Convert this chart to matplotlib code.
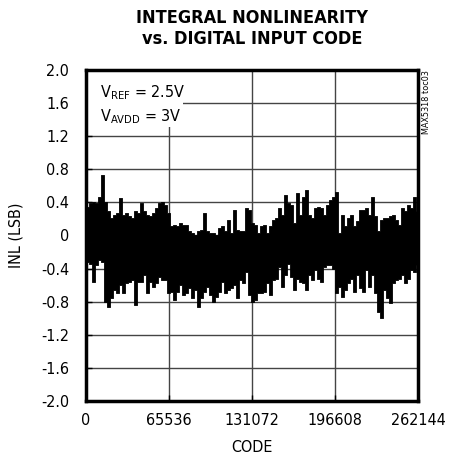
import matplotlib
matplotlib.use('Agg')
import matplotlib.pyplot as plt
from matplotlib.patches import Rectangle
import numpy as np

# INL envelope (max / min per code bin)
inl_max = [0.35, 0.39, 0.41, 0.39, 0.47, 0.73, 0.41, 0.29, 0.21, 0.25,
           0.27, 0.45, 0.25, 0.27, 0.23, 0.21, 0.29, 0.27, 0.39, 0.29,
           0.25, 0.23, 0.27, 0.33, 0.39, 0.41, 0.37, 0.27,
           0.11, 0.13, 0.11, 0.15, 0.13, 0.13, 0.05, 0.03, 0.01, 0.05,
           0.07, 0.27, 0.05, 0.03, 0.03, 0.01, 0.09, 0.11, 0.05, 0.19,
           0.03, 0.31, 0.07, 0.05, 0.05, 0.33, 0.31, 0.15,
           0.13, 0.03, 0.11, 0.13, 0.03, 0.11, 0.19, 0.21, 0.33, 0.25,
           0.49, 0.39, 0.37, 0.15, 0.51, 0.25, 0.47, 0.55, 0.25, 0.21,
           0.33, 0.35, 0.33, 0.25, 0.37, 0.43, 0.47, 0.53,
           0.03, 0.25, 0.11, 0.21, 0.25, 0.11, 0.17, 0.31, 0.31, 0.33,
           0.25, 0.47, 0.23, 0.05, 0.19, 0.21, 0.21, 0.23, 0.25, 0.19,
           0.13, 0.33, 0.29, 0.37, 0.33, 0.47, 0.29]
inl_min = [-0.32, -0.34, -0.56, -0.36, -0.30, -0.32, -0.80, -0.86, -0.76, -0.66,
           -0.70, -0.60, -0.70, -0.58, -0.56, -0.54, -0.84, -0.56, -0.56, -0.48,
           -0.70, -0.56, -0.62, -0.58, -0.50, -0.54, -0.54, -0.70,
           -0.68, -0.78, -0.68, -0.60, -0.72, -0.70, -0.64, -0.76, -0.66, -0.86,
           -0.76, -0.68, -0.62, -0.72, -0.80, -0.74, -0.68, -0.56, -0.70, -0.66,
           -0.64, -0.60, -0.76, -0.54, -0.58, -0.44, -0.72, -0.80,
           -0.78, -0.70, -0.70, -0.68, -0.58, -0.72, -0.54, -0.52, -0.38, -0.62,
           -0.48, -0.34, -0.50, -0.66, -0.52, -0.56, -0.58, -0.66, -0.48, -0.54,
           -0.42, -0.52, -0.56, -0.38, -0.36, -0.36, -0.40, -0.70,
           -0.62, -0.74, -0.66, -0.58, -0.52, -0.68, -0.48, -0.64, -0.68, -0.42,
           -0.62, -0.48, -0.70, -0.92, -1.00, -0.66, -0.76, -0.82, -0.58, -0.54,
           -0.52, -0.48, -0.58, -0.52, -0.42, -0.44, -0.36]
bin_step = 2368
codes = np.arange(len(inl_max)) * bin_step + bin_step / 2

x_ticks = [0, 65536, 131072, 196608, 262144]
y_ticks = [2.0, 1.6, 1.2, 0.8, 0.4, 0.0, -0.4, -0.8, -1.2, -1.6, -2.0]
y_labels = ['2.0', '1.6', '1.2', '0.8', '0.4', '0', '-0.4', '-0.8', '-1.2', '-1.6', '-2.0']

plt.rcParams['font.family'] = ['DejaVu Sans']
plt.rcParams['font.stretch'] = 'condensed'

fig = plt.figure(figsize=(4.54, 4.61), dpi=100)
ax = fig.add_axes([0.1894, 0.1302, 0.7313, 0.718])
ax.set_axisbelow(True)

ax.fill_between(codes, inl_min, inl_max, step='mid', color='black',
                edgecolor='black', linewidth=0.6, zorder=3)

ax.set_xlim(0, 262144)
ax.set_ylim(-2, 2)
ax.set_xticks(x_ticks)
ax.set_xticklabels([str(t) for t in x_ticks])
ax.set_yticks(y_ticks)
ax.set_yticklabels(y_labels)
ax.grid(True, color='#444444', linewidth=1.0)
ax.tick_params(direction='in', length=4, width=1, labelsize=11.5, colors='black')
ax.tick_params(axis='x', pad=9)
ax.tick_params(axis='y', pad=12)
for s in ax.spines.values():
    s.set_linewidth(2.5)
    s.set_zorder(5)

# white box behind the condition text
ax.add_patch(Rectangle((0, 0.828), 0.292, 0.172, transform=ax.transAxes,
                       facecolor='white', edgecolor='none', zorder=2))
ax.text(0.042, 0.96, r'$\mathregular{V_{REF}}$ = 2.5V' + '\n' + r'$\mathregular{V_{AVDD}}$ = 3V',
        transform=ax.transAxes, ha='left', va='top', fontsize=11.5,
        linespacing=1.4, zorder=4)

ax.set_xlabel('CODE', fontsize=11.5, labelpad=8)
ax.set_ylabel('INL (LSB)', fontsize=11.5, labelpad=13)

fig.text(0.555, 1 - 9 / 461, 'INTEGRAL NONLINEARITY\nvs. DIGITAL INPUT CODE',
         ha='center', va='top', fontsize=13, fontweight='bold', linespacing=1.2)
fig.text(0.9405, 0.848, 'MAX5318 toc03', rotation=90, ha='center', va='top',
         fontsize=6.5)

fig.savefig('out.png', dpi=100)
